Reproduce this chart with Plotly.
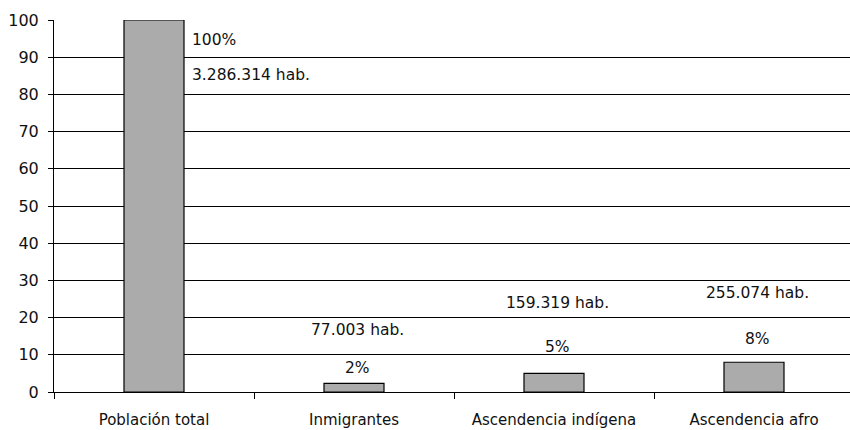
import plotly.graph_objects as go

categories = ["Población total", "Inmigrantes", "Ascendencia indígena", "Ascendencia afro"]
values = [100, 2.3, 5.0, 8.0]
pct_labels = ["100%", "2%", "5%", "8%"]
hab_labels = ["3.286.314 hab.", "77.003 hab.", "159.319 hab.", "255.074 hab."]
y_ticks = [0, 10, 20, 30, 40, 50, 60, 70, 80, 90, 100]

# label placement (style)
pct_y = [94.6, 6.5, 12.1, 14.2]
hab_y = [85.2, 16.7, 23.9, 26.6]
font_family = "'DejaVu Sans', sans-serif"

fig = go.Figure()
fig.add_trace(go.Bar(
    x=categories, y=values, width=0.3,
    marker=dict(color="#ababab", line=dict(color="#000000", width=1.2)),
    hoverinfo="skip",
))

for i, c in enumerate(categories):
    if i == 0:
        xanchor, xshift = "left", 36
    else:
        xanchor, xshift = "center", 3
    fig.add_annotation(x=c, y=pct_y[i], text=pct_labels[i], showarrow=False,
                       xanchor=xanchor, yanchor="middle", xshift=xshift,
                       font=dict(size=15.5, color="#111111", family=font_family))
    fig.add_annotation(x=c, y=hab_y[i], text=hab_labels[i], showarrow=False,
                       xanchor=xanchor, yanchor="middle", xshift=xshift,
                       font=dict(size=15.5, color="#111111", family=font_family))

fig.update_layout(
    width=850, height=430, autosize=False,
    margin=dict(l=54, r=0, t=20, b=38, autoexpand=False),
    plot_bgcolor="white", paper_bgcolor="white",
    showlegend=False,
    font=dict(family=font_family, size=15, color="#111111"),
)
fig.update_xaxes(
    range=[-0.5, 3.48], automargin=False,
    showline=True, linecolor="black", linewidth=1,
    ticks="outside", tickson="boundaries", ticklen=6, tickcolor="black",
    ticklabelstandoff=14,
    tickfont=dict(size=15, family=font_family, color="#111111"),
    showgrid=False,
)
fig.update_yaxes(
    range=[0, 100], tickvals=y_ticks, automargin=False,
    showline=True, linecolor="black", linewidth=1,
    ticks="outside", ticklen=5, tickcolor="black",
    ticklabelstandoff=6,
    showgrid=True, gridcolor="black", gridwidth=1,
    zeroline=True, zerolinecolor="black", zerolinewidth=1,
    tickfont=dict(size=16, family=font_family, color="#111111"),
)

fig.write_html("out.html", config={"displayModeBar": False},
               post_script="document.body.style.margin='0';document.body.style.overflow='hidden';")
